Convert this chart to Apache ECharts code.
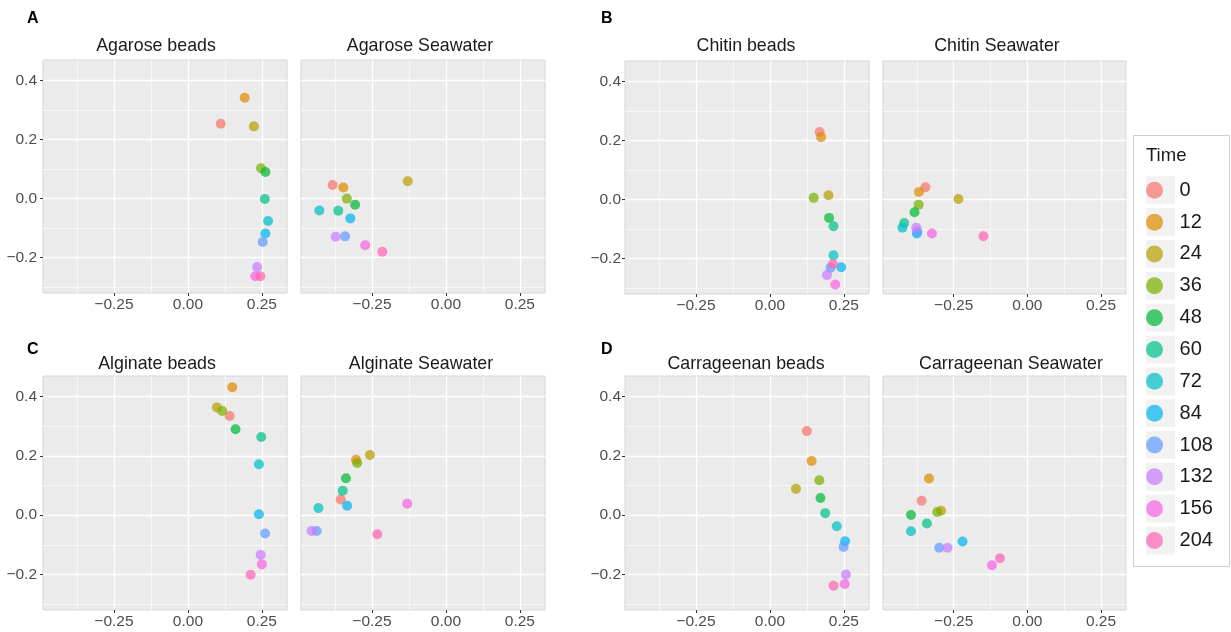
<!DOCTYPE html>
<html>
<head>
<meta charset="utf-8">
<script src="https://cdn.jsdelivr.net/npm/echarts@6/dist/echarts.min.js"></script>
<style>
    html, body { margin: 0; padding: 0; background: #fff; }
    #chart { width: 1231px; height: 632px; }
</style>
</head>
<body>
<div id="chart"></div>
<script>
// time points (legend) and ggplot hue colours
const times = ["0", "12", "24", "36", "48", "60", "72", "84", "108", "132", "156", "204"];
const timeColors = ["#F8766D", "#DE8C00", "#B79F00", "#7CAE00", "#00BA38", "#00C08B",
    "#00BFC4", "#00B4F0", "#619CFF", "#C77CFF", "#F564E3", "#FF64B0"];

// tick values
const xMajor = [-0.25, 0, 0.25];
const xMinor = [-0.375, -0.125, 0.125];
const yMajor = [-0.2, 0, 0.2, 0.4];
const yMinor = [-0.3, -0.1, 0.1, 0.3];

// ordination coordinates, one point per time (same order as times)
const agaroseBeads = [[0.111, 0.254], [0.192, 0.342], [0.223, 0.245], [0.247, 0.103], [0.262, 0.090], [0.260, -0.001],
    [0.271, -0.076], [0.262, -0.118], [0.253, -0.147], [0.234, -0.232], [0.228, -0.263], [0.245, -0.263]];
const agaroseSeawater = [[-0.383, 0.046], [-0.347, 0.038], [-0.129, 0.059], [-0.335, 0.000], [-0.307, -0.021], [-0.364, -0.041],
    [-0.428, -0.040], [-0.323, -0.067], [-0.341, -0.128], [-0.373, -0.129], [-0.273, -0.158], [-0.215, -0.180]];
const chitinBeads = [[0.168, 0.229], [0.173, 0.212], [0.198, 0.015], [0.148, 0.006], [0.200, -0.062], [0.215, -0.090],
    [0.215, -0.189], [0.241, -0.229], [0.205, -0.231], [0.193, -0.256], [0.221, -0.288], [0.213, -0.218]];
const chitinSeawater = [[-0.346, 0.042], [-0.368, 0.026], [-0.234, 0.002], [-0.369, -0.017], [-0.383, -0.043], [-0.418, -0.079],
    [-0.424, -0.095], [-0.375, -0.115], [-0.373, -0.108], [-0.377, -0.095], [-0.324, -0.115], [-0.149, -0.124]];
const alginateBeads = [[0.141, 0.335], [0.150, 0.432], [0.098, 0.364], [0.116, 0.352], [0.161, 0.290], [0.248, 0.264],
    [0.240, 0.172], [0.240, 0.003], [0.261, -0.062], [0.246, -0.134], [0.250, -0.166], [0.212, -0.201]];
const alginateSeawater = [[-0.356, 0.053], [-0.304, 0.187], [-0.257, 0.203], [-0.300, 0.176], [-0.338, 0.125], [-0.349, 0.083],
    [-0.431, 0.024], [-0.334, 0.032], [-0.437, -0.053], [-0.454, -0.053], [-0.131, 0.039], [-0.232, -0.064]];
const carrageenanBeads = [[0.125, 0.284], [0.141, 0.183], [0.088, 0.089], [0.167, 0.118], [0.171, 0.058], [0.187, 0.007],
    [0.226, -0.037], [0.254, -0.088], [0.249, -0.107], [0.257, -0.200], [0.253, -0.232], [0.215, -0.238]];
const carrageenanSeawater = [[-0.359, 0.049], [-0.334, 0.124], [-0.293, 0.015], [-0.306, 0.011], [-0.395, 0.001], [-0.341, -0.028],
    [-0.395, -0.054], [-0.220, -0.089], [-0.299, -0.110], [-0.271, -0.110], [-0.120, -0.169], [-0.093, -0.145]];

const FONT = "Liberation Sans, Arial, sans-serif";
const X_MIN = -0.49, X_MAX = 0.335, Y_MIN = -0.32, Y_MAX = 0.47;

// facets: title, data, grid box, title centre, y label margin
const facets = [
    { title: "Agarose beads", data: agaroseBeads, left: 43, top: 60, width: 244, height: 233, tx: 156, ty: 46, yLabels: true, margin: 6 },
    { title: "Agarose Seawater", data: agaroseSeawater, left: 301, top: 60, width: 244, height: 233, tx: 420, ty: 46 },
    { title: "Chitin beads", data: chitinBeads, left: 625, top: 61, width: 244, height: 233, tx: 746, ty: 46, yLabels: true, margin: 4 },
    { title: "Chitin Seawater", data: chitinSeawater, left: 883, top: 61, width: 243, height: 233, tx: 997, ty: 46 },
    { title: "Alginate beads", data: alginateBeads, left: 43, top: 376, width: 244, height: 234, tx: 157, ty: 364, yLabels: true, margin: 6 },
    { title: "Alginate Seawater", data: alginateSeawater, left: 301, top: 376, width: 244, height: 234, tx: 421, ty: 364 },
    { title: "Carrageenan beads", data: carrageenanBeads, left: 625, top: 376, width: 244, height: 234, tx: 746, ty: 364, yLabels: true, margin: 4 },
    { title: "Carrageenan Seawater", data: carrageenanSeawater, left: 883, top: 376, width: 243, height: 234, tx: 1011, ty: 364 }
];

const panelLetters = [
    { text: "A", x: 27, y: 19 }, { text: "B", x: 601, y: 19 },
    { text: "C", x: 27, y: 350 }, { text: "D", x: 601, y: 350 }
];

const fmt = (digits) => (v) => v.toFixed(digits).replace("-", "\u2212");

const grid = [], xAxis = [], yAxis = [], series = [], graphic = [];

facets.forEach((f, i) => {
    grid.push({
        left: f.left, top: f.top, width: f.width, height: f.height,
        show: true, backgroundColor: "#EBEBEB", borderColor: "#D6D6D6", borderWidth: 1
    });
    // major axes (labels, ticks, major grid lines)
    xAxis.push({
        gridIndex: i, type: "value", min: X_MIN, max: X_MAX, position: "bottom",
        axisLine: { show: false, onZero: false },
        axisTick: { show: true, length: 3, customValues: xMajor, lineStyle: { color: "#333", width: 1 } },
        axisLabel: { customValues: xMajor, formatter: fmt(2), color: "#4D4D4D", fontSize: 15.5, fontFamily: FONT, margin: 4 },
        splitLine: { show: true, lineStyle: { color: "#FFFFFF", width: 1.3 } }
    });
    yAxis.push({
        gridIndex: i, type: "value", min: Y_MIN, max: Y_MAX, position: "left",
        axisLine: { show: false, onZero: false },
        axisTick: { show: !!f.yLabels, length: 3, customValues: yMajor, lineStyle: { color: "#333", width: 1 } },
        axisLabel: { show: !!f.yLabels, customValues: yMajor, formatter: fmt(1), color: "#4D4D4D", fontSize: 15.5, fontFamily: FONT, margin: f.margin || 4 },
        splitLine: { show: true, lineStyle: { color: "#FFFFFF", width: 1.3 } }
    });
    graphic.push({
        type: "text", x: f.tx, y: f.ty,
        style: { text: f.title, font: "17.8px " + FONT, fill: "#1A1A1A", align: "center", verticalAlign: "middle" }
    });
});

// minor grid line axes
facets.forEach((f, i) => {
    xAxis.push({
        gridIndex: i, type: "value", min: X_MIN, max: X_MAX, position: "top",
        axisLine: { show: false, onZero: false }, axisTick: { show: false, customValues: xMinor },
        axisLabel: { show: false, customValues: xMinor },
        splitLine: { show: true, lineStyle: { color: "#FFFFFF", width: 0.6 } }
    });
    yAxis.push({
        gridIndex: i, type: "value", min: Y_MIN, max: Y_MAX, position: "right",
        axisLine: { show: false, onZero: false }, axisTick: { show: false, customValues: yMinor },
        axisLabel: { show: false, customValues: yMinor },
        splitLine: { show: true, lineStyle: { color: "#FFFFFF", width: 0.6 } }
    });
});

facets.forEach((f, i) => {
    times.forEach((t, k) => {
        series.push({
            type: "scatter", name: t, xAxisIndex: i, yAxisIndex: i,
            symbolSize: 10, data: [f.data[k]],
            itemStyle: { color: timeColors[k], opacity: 0.72 },
            emphasis: { disabled: true }, z: 3
        });
    });
});

panelLetters.forEach(p => {
    graphic.push({
        type: "text", x: p.x, y: p.y,
        style: { text: p.text, font: "bold 16px " + FONT, fill: "#000", align: "left", verticalAlign: "middle" }
    });
});

// legend frame, title and key backgrounds
graphic.push({ type: "rect", shape: { x: 1133.5, y: 135.5, width: 96, height: 431 }, style: { fill: "#fff", stroke: "#CCCCCC", lineWidth: 1 }, z: -1 });
graphic.push({ type: "text", x: 1146, y: 156, style: { text: "Time", font: "18.5px " + FONT, fill: "#1A1A1A", align: "left", verticalAlign: "middle" } });
times.forEach((t, k) => {
    graphic.push({ type: "rect", shape: { x: 1146, y: 190.3 + 31.84 * k - 14, width: 29, height: 28 }, style: { fill: "#F2F2F2" }, z: -1 });
});

const chart = echarts.init(document.getElementById("chart"));
chart.setOption({
    animation: false,
    backgroundColor: "#fff",
    grid, xAxis, yAxis, series, graphic,
    legend: {
        data: times, orient: "vertical", left: 1146, top: 190.3 - 10,
        padding: 0, itemWidth: 29, itemHeight: 17, itemGap: 11.84,
        icon: "circle", selectedMode: false,
        formatter: (name) => " " + name,
        textStyle: { fontSize: 20, fontFamily: FONT, color: "#1A1A1A" }
    }
});
</script>
</body>
</html>
